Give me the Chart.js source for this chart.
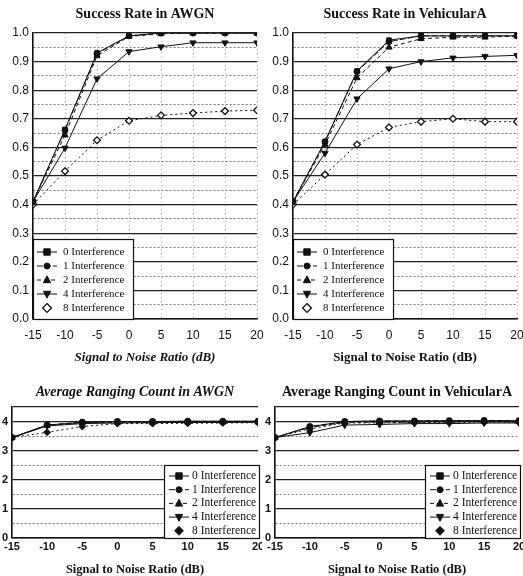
<!DOCTYPE html>
<html>
<head>
<meta charset="utf-8">
<script src="https://cdn.jsdelivr.net/npm/chart.js"></script>
<style>
  body { margin: 0; background: #fff; width: 523px; height: 576px; overflow: hidden; position: relative; }
  .cell { position: absolute; overflow: hidden; }
  canvas { position: absolute; left: 0; top: 0; }
</style>
</head>
<body>
<div class="cell" style="left:0;top:0;width:265px;height:376px"><canvas id="rateAwgn" width="290" height="376"></canvas></div>
<div class="cell" style="left:262px;top:0;width:261px;height:376px"><canvas id="rateVeh" width="286" height="376"></canvas></div>
<div class="cell" style="left:0;top:376px;width:262px;height:200px"><canvas id="rangAwgn" width="270" height="200"></canvas></div>
<div class="cell" style="left:262px;top:376px;width:261px;height:200px"><canvas id="rangVeh" width="270" height="200"></canvas></div>
<script>
// SNR points (dB)
const snr = [-15, -10, -5, 0, 5, 10, 15, 20];
const seriesNames = ['0 Interference', '1 Interference', '2 Interference', '4 Interference', '8 Interference'];

// success rate, AWGN
const rateAwgn0 = [0.41, 0.663, 0.93, 0.99, 1.0, 1.0, 1.0, 1.0];
const rateAwgn1 = [0.41, 0.66, 0.928, 0.99, 1.0, 1.0, 1.0, 1.0];
const rateAwgn2 = [0.41, 0.643, 0.92, 0.988, 0.997, 1.0, 1.0, 1.0];
const rateAwgn4 = [0.41, 0.598, 0.84, 0.935, 0.952, 0.966, 0.966, 0.966];
const rateAwgn8 = [0.40, 0.517, 0.625, 0.693, 0.712, 0.72, 0.727, 0.73];

// success rate, VehicularA
const rateVeh0 = [0.41, 0.62, 0.867, 0.975, 0.99, 0.99, 0.99, 0.99];
const rateVeh1 = [0.41, 0.62, 0.865, 0.97, 0.99, 0.99, 0.99, 0.99];
const rateVeh2 = [0.41, 0.61, 0.843, 0.95, 0.98, 0.985, 0.985, 0.99];
const rateVeh4 = [0.41, 0.58, 0.77, 0.875, 0.9, 0.913, 0.918, 0.922];
const rateVeh8 = [0.40, 0.505, 0.61, 0.67, 0.69, 0.70, 0.69, 0.69];

// average ranging count, AWGN
const rangAwgn0 = [3.45, 3.88, 3.97, 4.0, 4.0, 4.01, 4.01, 4.01];
const rangAwgn1 = [3.45, 3.88, 3.98, 4.0, 4.0, 4.01, 4.01, 4.01];
const rangAwgn2 = [3.45, 3.87, 3.96, 3.97, 3.97, 3.98, 3.98, 3.98];
const rangAwgn4 = [3.45, 3.85, 3.93, 3.95, 3.96, 3.97, 3.97, 3.98];
const rangAwgn8 = [3.45, 3.63, 3.83, 3.93, 3.93, 3.94, 3.95, 3.96];

// average ranging count, VehicularA
const rangVeh0 = [3.45, 3.82, 4.0, 4.02, 4.02, 4.03, 4.03, 4.03];
const rangVeh1 = [3.45, 3.83, 4.0, 4.02, 4.02, 4.03, 4.04, 4.03];
const rangVeh2 = [3.45, 3.8, 3.97, 3.98, 3.98, 3.99, 4.0, 3.99];
const rangVeh4 = [3.45, 3.62, 3.88, 3.9, 3.93, 3.93, 3.95, 3.95];
const rangVeh8 = [3.45, 3.75, 3.95, 3.95, 3.97, 3.97, 3.98, 3.97];

const markStyle = [
  { shape: 'rect', rot: 0, r: 3.2, dash: [] },
  { shape: 'circle', rot: 0, r: 3, dash: [6, 2] },
  { shape: 'triangle', rot: 0, r: 3.6, dash: [4, 3] },
  { shape: 'triangle', rot: 180, r: 3.6, dash: [] },
  { shape: 'rectRot', rot: 0, r: 3.4, dash: [2, 3] }
];

function makeSets(lists, openDiamond) {
  return lists.map((vals, i) => {
    const m = markStyle[i];
    const open = openDiamond && i === 4;
    return {
      label: seriesNames[i],
      data: snr.map((x, j) => ({ x: x, y: vals[j] })),
      borderColor: '#111',
      borderWidth: 1,
      borderDash: m.dash,
      pointStyle: m.shape,
      pointRotation: m.rot,
      pointRadius: m.r,
      pointBorderWidth: open ? 1.3 : 1,
      pointBackgroundColor: open ? '#fff' : '#111',
      pointBorderColor: '#111',
      openMark: open,
      tension: 0
    };
  });
}

function drawMark(ctx, ds, x, y) {
  const r = ds.pointRadius;
  ctx.save();
  ctx.setLineDash([]);
  ctx.translate(x, y);
  ctx.rotate(ds.pointRotation * Math.PI / 180);
  ctx.beginPath();
  if (ds.pointStyle === 'rect') {
    ctx.rect(-r, -r, 2 * r, 2 * r);
  } else if (ds.pointStyle === 'circle') {
    ctx.arc(0, 0, r, 0, Math.PI * 2);
  } else if (ds.pointStyle === 'triangle') {
    ctx.moveTo(0, -r * 1.15);
    ctx.lineTo(r, r * 0.75);
    ctx.lineTo(-r, r * 0.75);
    ctx.closePath();
  } else {
    ctx.moveTo(0, -r * 1.3);
    ctx.lineTo(r * 1.3, 0);
    ctx.lineTo(0, r * 1.3);
    ctx.lineTo(-r * 1.3, 0);
    ctx.closePath();
  }
  ctx.fillStyle = ds.openMark ? '#fff' : '#111';
  ctx.fill();
  ctx.lineWidth = ds.pointBorderWidth;
  ctx.strokeStyle = '#111';
  ctx.stroke();
  ctx.restore();
}

// boxed legend with line sample + marker, placed in a corner of the plot
const boxLegend = {
  id: 'boxLegend',
  afterDatasetsDraw(chart, args, o) {
    if (!o || !o.w) return;
    const { ctx, chartArea } = chart;
    const x0 = o.corner === 'bl' ? chartArea.left : chartArea.right - o.w + 2;
    const y0 = chartArea.bottom - o.h;
    ctx.save();
    ctx.fillStyle = '#fff';
    ctx.fillRect(x0, y0, o.w, o.h);
    ctx.strokeStyle = '#111';
    ctx.lineWidth = 1.2;
    ctx.strokeRect(x0 + 0.5, y0 + 0.5, o.w - 1, o.h);
    ctx.font = o.font;
    ctx.textBaseline = 'middle';
    ctx.fillStyle = '#111';
    chart.data.datasets.forEach((ds, i) => {
      const y = y0 + o.first + i * o.step;
      if (i < 4) {
        ctx.beginPath();
        ctx.setLineDash(ds.borderDash);
        ctx.lineWidth = 1;
        ctx.moveTo(x0 + o.lineFrom, y);
        ctx.lineTo(x0 + o.lineTo, y);
        ctx.stroke();
      }
      drawMark(ctx, ds, x0 + o.mark, y);
      ctx.setLineDash([]);
      ctx.fillText(ds.label, x0 + o.text, y);
    });
    ctx.restore();
  }
};

function isMajor(v, unit) {
  const k = v / unit;
  return Math.abs(k - Math.round(k)) < 1e-6;
}

function makeChart(id, cfg) {
  const topPlot = cfg.kind === 'rate';
  const unit = topPlot ? 0.1 : 1;
  const solid = c => c.tick && (isMajor(c.tick.value, unit) || c.tick.value === cfg.yMax);
  return new Chart(document.getElementById(id), {
    type: 'line',
    data: { datasets: makeSets(cfg.lists, topPlot) },
    plugins: [boxLegend],
    options: {
      responsive: false,
      animation: false,
      layout: { padding: 0 },
      plugins: {
        legend: { display: false },
        tooltip: { enabled: false },
        title: {
          display: true,
          text: cfg.title,
          color: '#111',
          font: { family: '"Liberation Serif", serif', size: 14, weight: 'bold', style: cfg.titleItalic ? 'italic' : 'normal' },
          padding: cfg.titlePad
        },
        boxLegend: cfg.legend
      },
      scales: {
        x: {
          type: 'linear',
          min: -15,
          max: 20,
          afterFit: s => { s.height = cfg.xHeight; },
          ticks: {
            stepSize: 5,
            padding: cfg.xTickPad,
            color: '#111',
            font: { family: '"Liberation Sans", Arial, sans-serif', size: topPlot ? 12 : 11, weight: topPlot ? 'normal' : 'bold' }
          },
          grid: {
            display: topPlot,
            drawTicks: false,
            color: c => (c.tick && c.tick.value > -15) ? '#9a9a9a' : 'rgba(0,0,0,0)',
            lineWidth: 0.8
          },
          border: {
            display: true,
            color: '#111',
            width: 1.6,
            dash: c => (c.tick ? [1, 3] : [])
          },
          title: {
            display: true,
            text: 'Signal to Noise Ratio (dB)',
            color: '#111',
            font: { family: '"Liberation Serif", serif', size: topPlot ? 13 : 12.5, weight: 'bold', style: cfg.axisItalic ? 'italic' : 'normal', lineHeight: topPlot ? 1.2 : 1 },
            padding: { top: 0, bottom: cfg.xTitlePad }
          }
        },
        y: {
          min: 0,
          max: cfg.yMax,
          afterFit: s => { s.width = cfg.yWidth; },
          ticks: {
            stepSize: unit / 2,
            autoSkip: false,
            padding: cfg.yTickPad,
            color: '#111',
            font: { family: '"Liberation Sans", Arial, sans-serif', size: topPlot ? 12 : 11, weight: topPlot ? 'normal' : 'bold' },
            callback: v => isMajor(v, unit) ? (topPlot ? v.toFixed(1) : String(Math.round(v))) : ''
          },
          grid: {
            drawTicks: false,
            color: c => solid(c) ? '#222' : '#555',
            lineWidth: c => solid(c) ? 1.3 : 0.8
          },
          border: {
            display: true,
            color: '#111',
            width: 1.6,
            dash: c => (c.tick && !solid(c)) ? [2, 2] : []
          }
        },
        // empty right-hand axis, same width as the left one, so the title centres over the plot
        yBalance: {
          type: 'linear',
          position: 'right',
          display: true,
          afterFit: s => { s.width = cfg.yWidth; },
          ticks: { display: false },
          grid: { display: false },
          border: { display: false }
        }
      }
    }
  });
}

const rateLegend = { corner: 'bl', w: 101, h: 80, first: 13, step: 14, lineFrom: 4, lineTo: 24, mark: 14, text: 30, font: '11px "Liberation Serif", serif' };
const rangLegend = { corner: 'br', w: 96, h: 73, first: 11, step: 13.7, lineFrom: 5, lineTo: 25, mark: 15, text: 28, font: '11.5px "Liberation Serif", serif' };

makeChart('rateAwgn', {
  kind: 'rate', title: 'Success Rate in AWGN', titleItalic: false, axisItalic: true,
  lists: [rateAwgn0, rateAwgn1, rateAwgn2, rateAwgn4, rateAwgn8],
  yWidth: 33,
  titlePad: { top: 5.5, bottom: 10.7 },
  xHeight: 57, xTickPad: 9, xTitlePad: 11, yTickPad: 4, yMax: 1,
  legend: rateLegend
});
makeChart('rateVeh', {
  kind: 'rate', title: 'Success Rate in VehicularA', titleItalic: false, axisItalic: false,
  lists: [rateVeh0, rateVeh1, rateVeh2, rateVeh4, rateVeh8],
  yWidth: 31,
  titlePad: { top: 5.5, bottom: 10.7 },
  xHeight: 57, xTickPad: 9, xTitlePad: 11, yTickPad: 4, yMax: 1,
  legend: rateLegend
});
makeChart('rangAwgn', {
  kind: 'rang', title: 'Average Ranging Count in AWGN', titleItalic: true, axisItalic: false,
  lists: [rangAwgn0, rangAwgn1, rangAwgn2, rangAwgn4, rangAwgn8],
  yWidth: 12,
  titlePad: { top: 7.5, bottom: 6.7 },
  xHeight: 38, xTickPad: 2.5, xTitlePad: 0, yTickPad: 4, yMax: 4.5,
  legend: rangLegend
});
makeChart('rangVeh', {
  kind: 'rang', title: 'Average Ranging Count in VehicularA', titleItalic: false, axisItalic: false,
  lists: [rangVeh0, rangVeh1, rangVeh2, rangVeh4, rangVeh8],
  yWidth: 13,
  titlePad: { top: 7.5, bottom: 6.7 },
  xHeight: 38, xTickPad: 2.5, xTitlePad: 0, yTickPad: 4, yMax: 4.5,
  legend: rangLegend
});
</script>
</body>
</html>
